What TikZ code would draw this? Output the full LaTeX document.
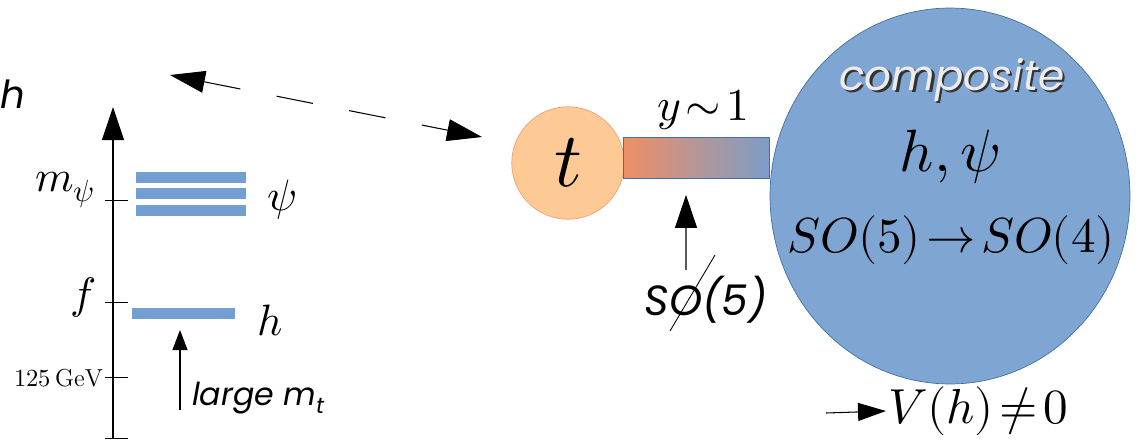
\documentclass[tikz,border=0pt]{standalone}
\usepackage{amsmath,amssymb}
\usepackage{fontspec}
\usepackage{unicode-math}
\setmathfont{Latin Modern Math}
\usepackage{xcolor}
\usepackage{tikz}
\usetikzlibrary{arrows.meta, positioning, shapes.geometric, calc}
\newfontfamily\handfont{Poppins}
\definecolor{lvlblue}{HTML}{729FCF}
\definecolor{compblue}{HTML}{7FA6D3}
\definecolor{compedge}{HTML}{41719C}
\definecolor{topfill}{HTML}{FDC995}
\definecolor{topedge}{HTML}{F4A070}
\definecolor{yukleft}{HTML}{EF8F66}
\definecolor{yukright}{HTML}{7D9CC8}
\newcommand{\shadowtext}[1]{\rlap{\hspace{1.2pt}\raisebox{-1.2pt}{\color{black!80}#1}}{\color{gray!15}#1}}

\begin{document}
\begin{tikzpicture}[x=0.02cm, y=-0.02cm,
  level/.style={fill=lvlblue, draw=none},
  tick/.style={line width=0.5pt},
  bigtip/.style={-{Triangle[length=0.66cm, width=0.44cm]}, line width=0.6pt},
  smalltip/.style={-{Triangle[length=0.4cm, width=0.3cm]}, line width=0.6pt},
  hand/.style={font=\handfont\itshape\fontsize{22}{24}\selectfont},
  lbl/.style={font=\fontsize{25}{27}\selectfont, inner sep=1pt},
]
  \useasboundingbox (0,0) rectangle (1139,444);

  % energy axis
  \coordinate (axbot) at (113,438);
  \coordinate (axtop) at (113,107);
  \draw[bigtip] (axbot) -- (axtop);
  \node[hand, anchor=west] (hlab) at (-6,94) {h};
  \draw[tick] (105,438) -- (128,438);
  \draw[tick] (105,377) -- (128,377);
  \draw[tick] (105,302) -- (128,302);
  \draw[tick] (105,200) -- (128,200);
  \node[font=\fontsize{14}{16}\selectfont, anchor=east, inner sep=1pt] (gev) at (105,378) {$125\,\mathrm{GeV}$};
  \node[lbl, anchor=east] (flab) at (98,298) {$f$};
  \node[lbl, anchor=east] (mpsi) at (97,190) {$m_\psi$};

  % levels
  \foreach \yy in {172,188,205}
    \fill[level] (136,\yy) rectangle (246,\yy+11);
  \fill[level] (132,308) rectangle (235,319);
  \node[lbl] (psilab) at (282,200) {$\psi$};
  \node[lbl] (hlev) at (270,320) {$h$};
  \node[hand, font=\handfont\itshape\fontsize{18}{20}\selectfont, anchor=west] (mtlab) at (186,398) {large m\textsubscript{t}};
  \draw[smalltip] (180,410) -- (180,330);

  % top quark and composite sector
  \node[circle, draw=topedge, fill=topfill, minimum size=2.25cm, inner sep=0pt,
    font=\fontsize{44}{46}\selectfont] (top) at (568,163) {$t$};
  \node[draw=compedge, left color=yukleft, right color=yukright, minimum width=2.92cm,
    minimum height=0.82cm, inner sep=0pt] (yuk) at (696,158) {};
  \node[font=\fontsize{26}{28}\selectfont] (ylab) at (703,110) {$y\!\sim\!1$};
  \node[ellipse, draw=compedge, fill=compblue, minimum width=7.2cm, minimum height=7.52cm,
    inner sep=0pt] (comp) at (950,196) {};
  \node[hand, font=\handfont\itshape\fontsize{24}{26}\selectfont] (complab) at (952,81) {\shadowtext{composite}};
  \node[font=\fontsize{34}{36}\selectfont] (hpsi) at (950,157) {$h,\psi$};
  \node[font=\fontsize{28}{30}\selectfont] (breaking) at (951,240) {$SO(5)\!\rightarrow\! SO(4)$};

  % explicit breaking
  \node[hand, font=\handfont\itshape\fontsize{24}{26}\selectfont] (so5) at (706,300) {SO(5)};
  \draw[line width=0.5pt] (670,331) -- (715,255);
  \draw[bigtip] ([xshift=-0.4cm]so5.north) -- ([xshift=-0.2cm, yshift=-0.32cm]yuk.south);

  % potential
  \node[font=\fontsize{28}{30}\selectfont, anchor=west, inner sep=1pt] (pot) at (886,411) {$V(h)\!\neq\! 0$};
  \coordinate (potstart) at (826,413);
  \draw[-{Triangle[length=0.56cm, width=0.36cm]}, line width=0.6pt] (potstart) -- (pot.west);

  % connection between the two pictures
  \coordinate (dashL) at (170,75);
  \coordinate (dashR) at (482,137);
  \draw[{Triangle[length=0.7cm, width=0.44cm]}-{Triangle[length=0.7cm, width=0.44cm]},
    line width=0.6pt, dash pattern=on 0.74cm off 0.74cm] (dashL) -- (dashR);
\end{tikzpicture}
\end{document}
